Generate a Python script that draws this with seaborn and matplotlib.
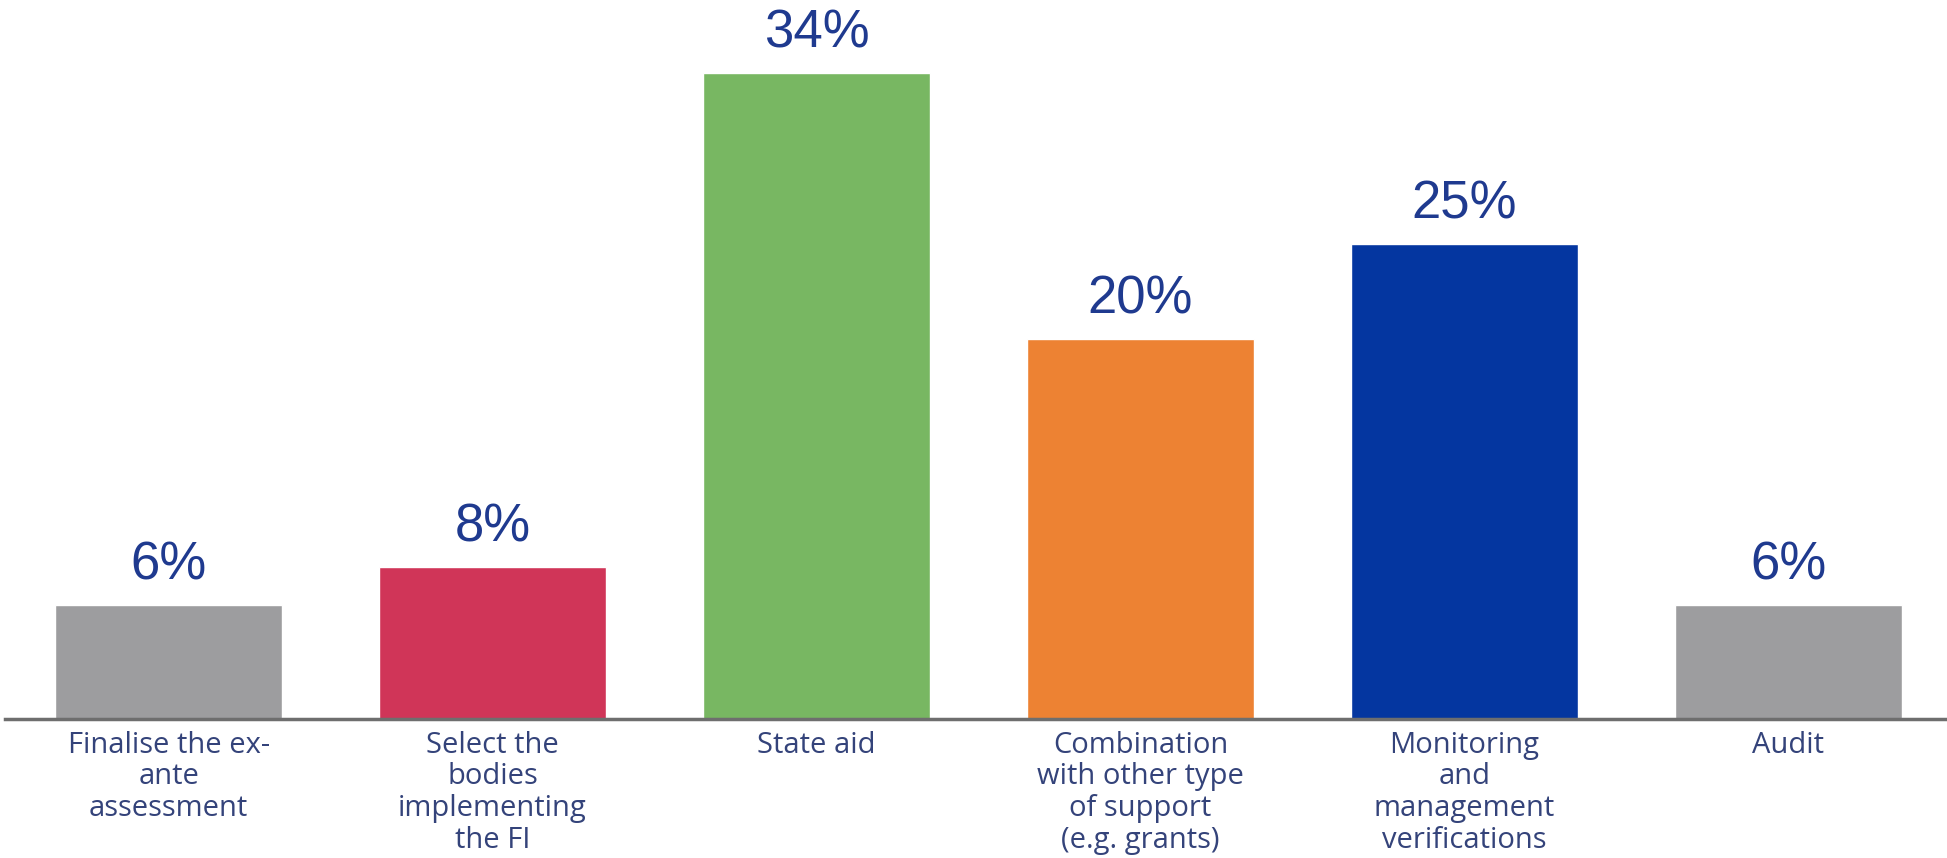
import matplotlib
matplotlib.use("Agg")
import matplotlib.pyplot as plt
import seaborn as sns
import pandas as pd

# data
categories = [
    "Finalise the ex-\nante\nassessment",
    "Select the\nbodies\nimplementing\nthe FI",
    "State aid",
    "Combination\nwith other type\nof support\n(e.g. grants)",
    "Monitoring\nand\nmanagement\nverifications",
    "Audit",
]
values = [6, 8, 34, 20, 25, 6]
colors = ["#9D9D9F", "#D03558", "#78B762", "#ED8233", "#0436A0", "#9D9D9F"]

df = pd.DataFrame({"category": categories, "value": values})

sns.set_theme(style="white")
plt.rcParams["font.family"] = ["Open Sans", "DejaVu Sans"]

fig = plt.figure(figsize=(19.47, 8.58), dpi=100)
ax = fig.add_axes([5 / 1947, 139 / 858, 1942 / 1947, 719 / 858])

sns.barplot(data=df, x="category", y="value", hue="category", palette=colors,
            legend=False, width=0.70, saturation=1, ax=ax)

ax.set_xlim(-0.505, 5.49)
ax.set_ylim(0, 719 / 19)

# value labels
for i, v in enumerate(values):
    ax.text(i, v + 0.75, f"{v}%", ha="center", va="bottom",
            fontsize=38, color="#1F3A8F", family=["Liberation Sans"])

ax.set_xlabel("")
ax.set_ylabel("")
ax.set_yticks([])
ax.set_xticks(range(len(categories)))
ax.set_xticklabels(categories, fontsize=21, color="#34437A", linespacing=1.12)
ax.tick_params(axis="x", length=0, pad=8.5)

for side in ["top", "right", "left"]:
    ax.spines[side].set_visible(False)
ax.spines["bottom"].set_color("#6E6E6E")
ax.spines["bottom"].set_linewidth(2.5)

fig.savefig("out.png", dpi=100, facecolor="white")
